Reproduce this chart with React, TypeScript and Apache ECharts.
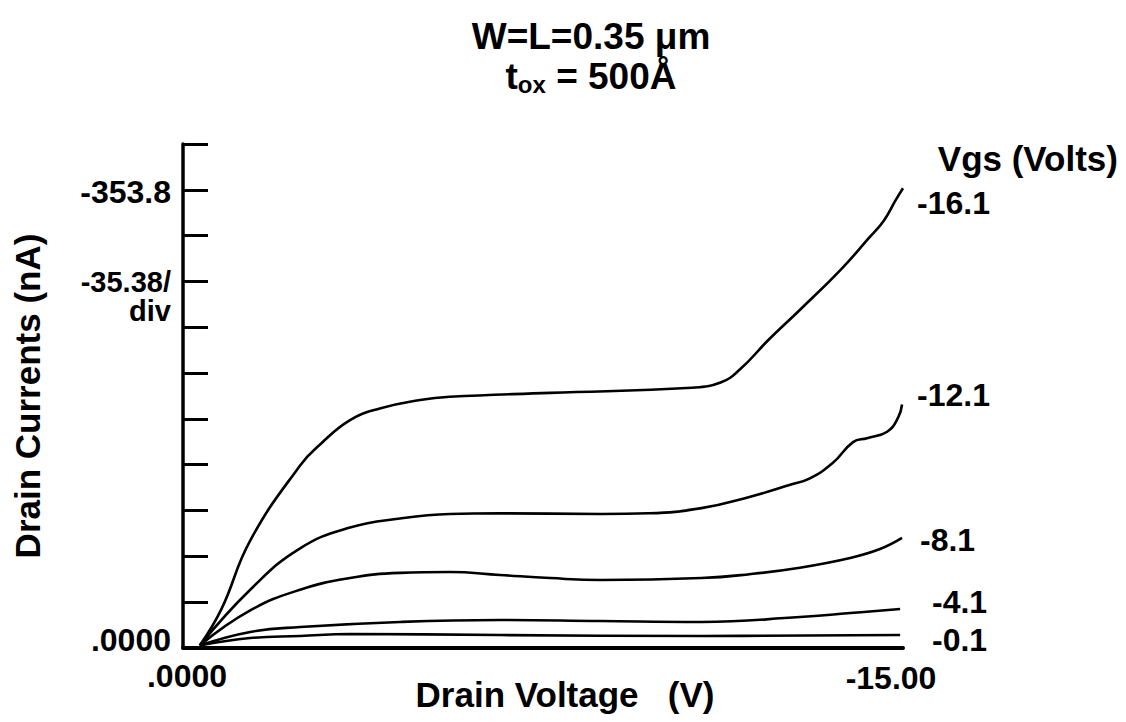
import React, { useEffect, useRef } from "react";
import * as echarts from "echarts";

// Drain voltage (V) / drain current (nA) points for each gate voltage
const vgs161: number[][] = [[-0.35,-2],[-0.8,-30],[-1.4,-83],[-2.44,-141],[-2.85,-157],[-3.48,-176],[-4.1,-185],[-4.94,-191.5],[-5.56,-194],[-7.65,-197],[-10.6,-201],[-11.2,-205],[-11.6,-215],[-12.2,-238],[-12.85,-261],[-13.7,-292],[-14.3,-317],[-14.6,-330],[-14.85,-346],[-15.0,-355]];
const vgs121: number[][] = [[-0.35,-2],[-1.4,-45],[-2.44,-77],[-3.48,-93],[-4.52,-100],[-5.56,-103.5],[-6.6,-104],[-8.7,-103.5],[-9.7,-104],[-10.8,-108],[-11.8,-116.6],[-12.65,-126],[-13.06,-131],[-13.54,-143],[-13.96,-159],[-14.25,-162],[-14.67,-167],[-14.9,-178],[-14.98,-188]];
const vgs81: number[][] = [[-0.35,-2],[-1.4,-29],[-2.44,-45],[-3.48,-54],[-4.52,-58],[-5.56,-58.7],[-6.6,-56.4],[-7.65,-54],[-8.7,-52.5],[-10.8,-54],[-11.8,-57],[-12.85,-62],[-13.9,-69.5],[-14.52,-76.4],[-14.98,-85]];
const vgs41: number[][] = [[-0.35,-2],[-1.4,-12.4],[-2.44,-16.2],[-4.52,-20.1],[-6.6,-21.6],[-8.7,-20.8],[-10.8,-20.1],[-12.85,-23.9],[-13.9,-27],[-14.94,-30.1]];
const vgs01: number[][] = [[-0.35,-2],[-1.4,-7.7],[-2.44,-9.3],[-3.48,-10.8],[-6.6,-10],[-10.8,-9.3],[-14.94,-10]];

const seriesNames = ["-16.1", "-12.1", "-8.1", "-4.1", "-0.1"];
const seriesData = [vgs161, vgs121, vgs81, vgs41, vgs01];
const labelY = [203, 395, 540, 602, 640];
const labelX = [917, 917, 920, 932, 932];

const yStep = 35.38;
const yMin = -389.18;
const xMin = -15;
const xMax = 0;

const FONT = "'Liberation Sans', Arial, Helvetica, sans-serif";

export default function App() {
  const ref = useRef<HTMLDivElement>(null);
  useEffect(() => {
    if (!ref.current) return;
    const chart = echarts.init(ref.current, undefined, { renderer: "svg" });
    const txt = (text: string, x: number, y: number, align: string, size = 32, extra: any = {}) => ({
      type: "text",
      x,
      y,
      style: {
        text,
        fontFamily: FONT,
        fontWeight: "bold",
        fontSize: size,
        fill: "#000",
        align,
        verticalAlign: "middle",
        ...extra,
      },
    });
    chart.setOption({
      animation: false,
      backgroundColor: "#fff",
      grid: { left: 183, right: 223, top: 144, bottom: 74, containLabel: false, outerBoundsMode: "none" },
      xAxis: {
        type: "value",
        min: xMin,
        max: xMax,
        inverse: true,
        axisLine: { show: true, lineStyle: { color: "#000", width: 4 } },
        axisTick: { show: false },
        splitLine: { show: false },
        axisLabel: {
          margin: 12,
          formatter: (v: number) => (v === 0 ? "{a|.0000}" : v === -15 ? "{b|-15.00}" : ""),
          rich: {
            a: { fontFamily: FONT, fontWeight: "bold", fontSize: 32, color: "#000", padding: [0, 0, 0, 8] },
            b: { fontFamily: FONT, fontWeight: "bold", fontSize: 32, color: "#000", padding: [2, 24, 0, 0] },
          },
          showMinLabel: true,
          showMaxLabel: true,
        },
        interval: 15,
      },
      yAxis: {
        type: "value",
        min: yMin,
        max: 0,
        interval: yStep,
        inverse: true,
        name: "Drain Currents (nA)",
        nameLocation: "middle",
        nameRotate: 90,
        nameGap: 138,
        nameTextStyle: { fontFamily: FONT, fontWeight: "bold", fontSize: 35, color: "#000" },
        axisLine: { show: true, lineStyle: { color: "#000", width: 3.5 } },
        axisTick: { show: true, inside: true, length: 25, lineStyle: { color: "#000", width: 3 } },
        splitLine: { show: false },
        axisLabel: {
          margin: 12,
          formatter: (v: number) => (Math.abs(v) < 0.01 ? "{z|.0000}" : Math.abs(v + 353.8) < 0.05 ? "{t|-353.8}" : ""),
          rich: {
            z: { fontFamily: FONT, fontWeight: "bold", fontSize: 32, color: "#000", padding: [0, 0, 16, 0] },
            t: { fontFamily: FONT, fontWeight: "bold", fontSize: 32, color: "#000", padding: [4, 0, 0, 0] },
          },
        },
      },
      series: seriesData.map((d, i) => ({
        name: seriesNames[i],
        type: "line",
        data: d,
        smooth: 0.45,
        showSymbol: false,
        symbol: "none",
        lineStyle: { color: "#000", width: 2.6 },
      })),
      graphic: [
        txt("W=L=0.35 μm", 591, 36, "center", 37),
        {
          type: "text",
          x: 591,
          y: 76,
          style: {
            text: "{m|t}{s|ox}{m| = 500Å}",
            align: "center",
            verticalAlign: "middle",
            rich: {
              m: { fontFamily: FONT, fontWeight: "bold", fontSize: 37, fill: "#000" },
              s: { fontFamily: FONT, fontWeight: "bold", fontSize: 24, fill: "#000", padding: [16, 0, 0, 0] },
            },
          },
        },
        txt("Drain Voltage   (V)", 565, 694, "center", 35),
        txt("-35.38/", 171, 282, "right", 29),
        txt("div", 171, 311, "right", 29),
        txt("Vgs (Volts)", 1118, 158, "right", 35),
        ...seriesNames.map((n, i) => txt(n, labelX[i], labelY[i], "left")),
      ],
    });
    return () => chart.dispose();
  }, []);
  return <div ref={ref} style={{ position: "fixed", left: 0, top: 0, width: 1126, height: 722, background: "#fff" }} />;
}
